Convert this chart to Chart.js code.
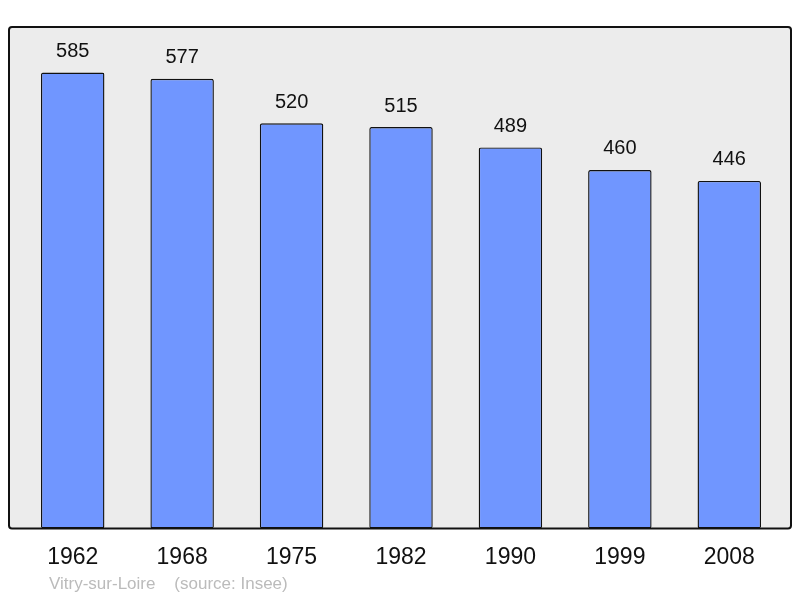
<!DOCTYPE html>
<html>
<head>
<meta charset="utf-8">
<script src="https://cdn.jsdelivr.net/npm/chart.js@4"></script>
<style>
  html, body { margin: 0; padding: 0; background: #fff; }
  #wrap { width: 800px; height: 598px; }
</style>
</head>
<body>
<div id="wrap"><canvas id="popChart" width="800" height="598"></canvas></div>
<script>
// Data
const years = ["1962", "1968", "1975", "1982", "1990", "1999", "2008"];
const population = [585, 577, 520, 515, 489, 460, 446];
const yMax = 643.5;
const sourceText = "Vitry-sur-Loire    (source: Insee)";

// background box + border around plot
const framePlugin = {
    id: "frame",
    beforeDatasetsDraw(chart) {
        const { ctx, chartArea: a } = chart;
        ctx.save();
        ctx.fillStyle = "#ececec";
        roundRect(ctx, 9, a.top, 782, a.bottom - a.top, 3);
        ctx.fill();
        ctx.restore();
    },
    afterDatasetsDraw(chart) {
        const { ctx, chartArea: a } = chart;
        ctx.save();
        ctx.strokeStyle = "#111";
        ctx.lineWidth = 2;
        roundRect(ctx, 9, a.top, 782, a.bottom - a.top, 3);
        ctx.stroke();

        // value labels above bars
        ctx.fillStyle = "#111";
        ctx.font = "20px 'Liberation Sans', Arial, sans-serif";
        ctx.textAlign = "center";
        ctx.textBaseline = "middle";
        chart.getDatasetMeta(0).data.forEach((bar, i) => {
            ctx.fillText(String(population[i]), bar.x, bar.y - 21);
        });

        // source line
        ctx.fillStyle = "#bbbbbb";
        ctx.font = "17px 'Liberation Sans', Arial, sans-serif";
        ctx.textAlign = "left";
        ctx.fillText(sourceText, 49, 584);
        ctx.restore();
    }
};

function roundRect(ctx, x, y, w, h, r) {
    ctx.beginPath();
    ctx.moveTo(x + r, y);
    ctx.lineTo(x + w - r, y);
    ctx.arcTo(x + w, y, x + w, y + r, r);
    ctx.lineTo(x + w, y + h - r);
    ctx.arcTo(x + w, y + h, x + w - r, y + h, r);
    ctx.lineTo(x + r, y + h);
    ctx.arcTo(x, y + h, x, y + h - r, r);
    ctx.lineTo(x, y + r);
    ctx.arcTo(x, y, x + r, y, r);
    ctx.closePath();
}

new Chart(document.getElementById("popChart"), {
    type: "bar",
    data: {
        labels: years,
        datasets: [{
            data: population,
            backgroundColor: "#7096ff",
            borderColor: "#111",
            borderWidth: 1.4,
            borderRadius: 2,
            borderSkipped: false,
            barPercentage: 0.58,
            categoryPercentage: 1
        }]
    },
    options: {
        responsive: false,
        animation: false,
        layout: { padding: { top: 27, left: 18, right: 16, bottom: 20 } },
        plugins: {
            legend: { display: false },
            tooltip: { enabled: false }
        },
        scales: {
            y: { display: false, min: 0, max: yMax },
            x: {
                grid: { display: false },
                border: { display: false },
                ticks: {
                    color: "#111",
                    padding: 7,
                    font: { size: 23, family: "'Liberation Sans', Arial, sans-serif" }
                }
            }
        }
    },
    plugins: [framePlugin]
});
</script>
</body>
</html>
